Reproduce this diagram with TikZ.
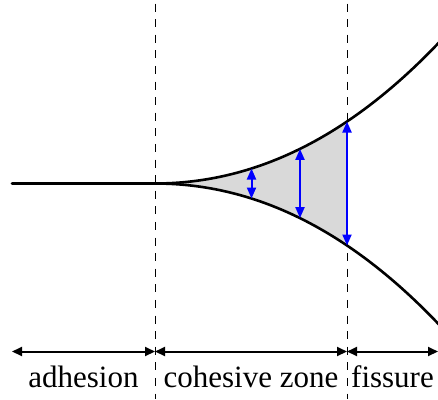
\documentclass[tikz,border=0pt]{standalone}
\usepackage{fontspec}
\setmainfont{Liberation Serif}
\usetikzlibrary{arrows.meta}
\definecolor{zonefill}{HTML}{D9D9D9}
\tikzset{
  crack/.style={line width=2.6pt, line cap=round},
  divider/.style={line width=1pt, dash pattern=on 8pt off 7.6pt},
  opening/.style={draw=blue, line width=2pt, {Triangle[length=11pt,width=9pt]}-{Triangle[length=11pt,width=9pt]}, shorten <=0pt, shorten >=0pt},
  span/.style={line width=2pt, {Triangle[length=10pt,width=9pt]}-{Triangle[length=10pt,width=9pt]}},
  lbl/.style={font=\fontsize{31}{37}\selectfont, anchor=base, inner sep=0pt}
}
\begin{document}
\begin{tikzpicture}[x=1pt, y=-1pt]
\useasboundingbox (0,0) rectangle (438,399);
% points
\coordinate (start) at (12,183.5);
\coordinate (tip) at (155,183.5);
\coordinate (d1top) at (155,3.5);
\coordinate (d1bot) at (155,399);
\coordinate (d2top) at (347,3.5);
\coordinate (d2bot) at (347,399);
\coordinate (a1t) at (251.5,168.5);
\coordinate (a1b) at (251.5,198.5);
\coordinate (a2t) at (300,148.9);
\coordinate (a2b) at (300,218.1);
\coordinate (a3t) at (347,121.5);
\coordinate (a3b) at (347,245.5);
\coordinate (s1l) at (12,351.5);
\coordinate (s1r) at (155,351.5);
\coordinate (s2l) at (155,351.5);
\coordinate (s2r) at (347,351.5);
\coordinate (s3l) at (347,351.5);
\coordinate (s3r) at (438,351.5);
% cohesive zone fill
\fill[zonefill] plot[domain=0:1.92, samples=80] ({155+100*\x}, {183.5-(15.42*\x*\x+0.727*\x*\x*\x)})
  -- plot[domain=1.92:0, samples=80] ({155+100*\x}, {183.5+(15.42*\x*\x+0.727*\x*\x*\x)}) -- cycle;
% dividers
\draw[divider] (d1top) -- (d1bot);
\draw[divider] (d2top) -- (d2bot);
% crack
\begin{scope}
\clip (0,0) rectangle (438,399);
\draw[crack] (start) -- (tip);
\draw[crack] plot[domain=0:3.0, samples=120] ({155+100*\x}, {183.5-(15.42*\x*\x+0.727*\x*\x*\x)});
\draw[crack] plot[domain=0:3.0, samples=120] ({155+100*\x}, {183.5+(15.42*\x*\x+0.727*\x*\x*\x)});
\end{scope}
% openings
\draw[opening] (a1t) -- (a1b);
\draw[opening] (a2t) -- (a2b);
\draw[opening] (a3t) -- (a3b);
% spans
\draw[span] (s1l) -- (s1r);
\draw[span] (s2l) -- (s2r);
\draw[span] (s3l) -- (s3r);
% labels
\node[lbl] (ladh) at (83.5,387) {adhesion};
\node[lbl] (lcoh) at (251,387) {cohesive zone};
\node[lbl] (lfis) at (392.5,387) {fissure};
\end{tikzpicture}
\end{document}
